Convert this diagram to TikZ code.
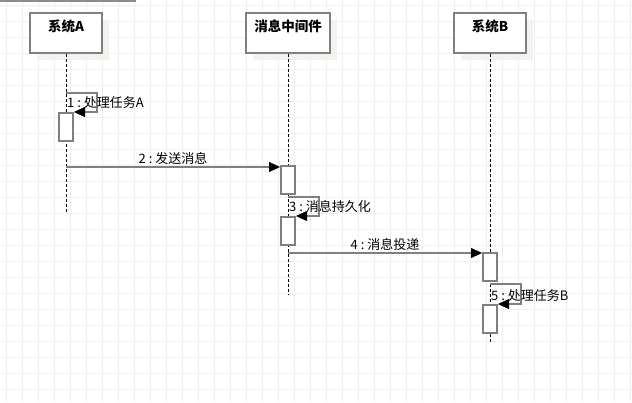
\documentclass[tikz,border=0pt]{standalone}
\usepackage{fontspec}
\setmainfont{Noto Sans CJK SC}
\usetikzlibrary{arrows.meta,positioning,shadows}
\definecolor{linegray}{HTML}{7F7F7F}
\definecolor{shadegray}{HTML}{F2F2EE}
\definecolor{gridgray}{HTML}{EFEFEF}
\begin{document}
\begin{tikzpicture}[x=1pt, y=-1pt, font=\fontsize{13}{15}\selectfont, box/.style = {draw=linegray, line width=2pt, fill=white, minimum width=72pt, minimum height=40pt, inner sep=0pt, drop shadow={shadow xshift=7pt, shadow yshift=-7pt, fill=shadegray, opacity=1}}, act/.style = {draw=linegray, line width=2pt, fill=white, minimum width=14pt, minimum height=28pt, inner sep=0pt}, life/.style = {dash pattern=on 3pt off 2pt, line width=1pt}, msg/.style = {draw=linegray, line width=2pt, -{Triangle[length=11pt, width=10pt, line width=0.4pt, color=black]}}, title/.style = {font=\fontsize{13.5}{15}\selectfont\bfseries}, txt/.style = {inner sep=1pt}]
    \useasboundingbox (0,0) rectangle (632,402);
    \fill[white] (0,0) rectangle (632,402);
    % grid
    \foreach \i in {0,...,39} \draw[gridgray, line width=1pt] (6.7+16*\i,0) -- (6.7+16*\i,402);
    \foreach \j in {0,...,25} \draw[gridgray, line width=1pt] (0,5.5+16*\j) -- (632,5.5+16*\j);
    \draw[linegray!90, line width=2pt] (0,0.5) -- (136,0.5);

    % participants
    \node[box] (sysA) at (66,33) {};
    \node[box, minimum width=84pt] (mq) at (288,33) {};
    \node[box] (sysB) at (490,33) {};
    \node[title] (nameA) at (66,26.5) {系统A};
    \node[title] (nameM) at (288,26.5) {消息中间件};
    \node[title] (nameB) at (490,26.5) {系统B};

    % lifelines
    \coordinate (endA) at (66,212);
    \coordinate (endM) at (288,295);
    \coordinate (endB) at (490,342);
    \draw[life] (sysA.south) -- (endA);
    \draw[life] (mq.south) -- (endM);
    \draw[life] (sysB.south) -- (endB);

    % activations
    \node[act] (actA) at (66,127) {};
    \node[act] (actM1) at (288,180) {};
    \node[act] (actM2) at (288,231) {};
    \node[act] (actB1) at (490,267) {};
    \node[act] (actB2) at (490,319) {};

    % messages
    \coordinate (loopA) at (66,93);
    \draw[msg] (loopA) -- ++(31,0) |- (actA.north east);
    \node[txt, anchor=west] (lbl1) at (66,103) {1\ :\ 处理任务A};

    \coordinate (srcA) at (66,167);
    \draw[msg] (srcA) -- (srcA -| actM1.west) node[midway, above, txt] (lbl2) {2\ :\ 发送消息};

    \coordinate (loopM) at (288,197);
    \draw[msg] (loopM) -- ++(31,0) |- (actM2.north east);
    \node[txt, anchor=west] (lbl3) at (288,207) {3\ :\ 消息持久化};

    \coordinate (srcM) at (288,253);
    \draw[msg] (srcM) -- (srcM -| actB1.west) node[midway, above, txt] (lbl4) {4\ :\ 消息投递};

    \coordinate (loopB) at (490,284);
    \draw[msg] (loopB) -- ++(31,0) |- (actB2.north east);
    \node[txt, anchor=west] (lbl5) at (490,296) {5\ :\ 处理任务B};
\end{tikzpicture}
\end{document}
